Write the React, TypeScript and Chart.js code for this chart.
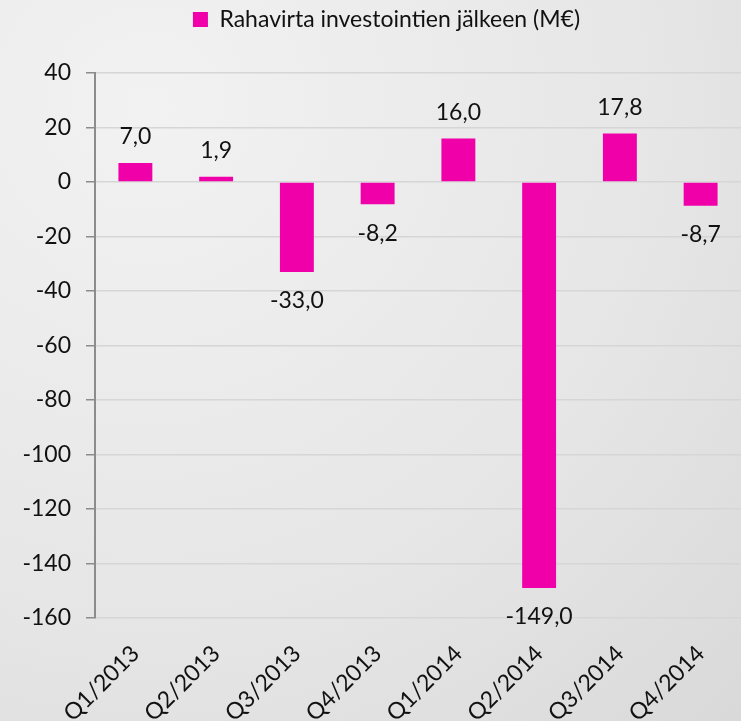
import React, { useEffect, useRef } from "react";
import { Chart, registerables } from "chart.js";

Chart.register(...registerables);

const categories = ["Q1/2013", "Q2/2013", "Q3/2013", "Q4/2013", "Q1/2014", "Q2/2014", "Q3/2014", "Q4/2014"];
const values = [7.0, 1.9, -33.0, -8.2, 16.0, -149.0, 17.8, -8.7];
const seriesName = "Rahavirta investointien jälkeen (M€)";
const yMin = -160;
const yMax = 40;
const yStep = 20;

const FONT = "Lato, 'Open Sans', sans-serif";
const FS = 23;
const PINK = "#f000a8";

const labelPlugin = {
  id: "valueLabels",
  beforeInit(chart: any) {
    const legend = chart.legend;
    if (legend) {
      const origFit = legend.fit;
      legend.fit = function () {
        origFit.call(this);
        this.height += 32;
      };
      const origDraw = legend.draw;
      legend.draw = function () {
        const c = this.ctx;
        c.save();
        c.translate(16, 0);
        origDraw.call(this);
        c.restore();
      };
    }
  },
  afterDatasetsDraw(chart: any) {
    const ctx = chart.ctx;
    const meta = chart.getDatasetMeta(0);
    ctx.save();
    ctx.font = `${FS}px ${FONT}`;
    ctx.fillStyle = "#111";
    ctx.textAlign = "center";
    ctx.textBaseline = "middle";
    meta.data.forEach((bar: any, i: number) => {
      const v = values[i];
      const txt = v.toFixed(1).replace(".", ",");
      const y = v >= 0 ? bar.y - 26 : bar.y + 29;
      ctx.fillText(txt, bar.x, y);
    });
    ctx.restore();
  },
};

export default function App() {
  const ref = useRef<HTMLCanvasElement>(null);
  useEffect(() => {
    document.body.style.margin = "0";
    const chart = new Chart(ref.current as HTMLCanvasElement, {
      type: "bar",
      data: {
        labels: categories,
        datasets: [
          {
            label: seriesName,
            data: values,
            backgroundColor: PINK,
            borderWidth: 0,
            barPercentage: 0.42,
            categoryPercentage: 1,
          },
        ],
      },
      options: {
        animation: false,
        responsive: false,
        layout: { padding: { left: 0, right: 0, top: 0, bottom: 0 } },
        plugins: {
          legend: {
            position: "top",
            labels: {
              font: { family: FONT, size: FS },
              color: "#111",
              boxWidth: 15,
              boxHeight: 15,
              padding: 8,
            },
          },
          tooltip: { enabled: false },
        },
        scales: {
          x: {
            grid: { display: false },
            border: { display: false },
            afterFit(scale: any) {
              scale.height = 721 - 618;
            },
            ticks: {
              font: { family: FONT, size: FS },
              color: "#111",
              minRotation: 45,
              maxRotation: 45,
              padding: 14,
            },
          },
          y: {
            min: yMin,
            max: yMax,
            afterFit(scale: any) {
              scale.width = 95;
            },
            ticks: {
              stepSize: yStep,
              font: { family: FONT, size: FS },
              color: "#111",
              padding: 15,
            },
            grid: {
              color: "#d6d6d6",
              tickColor: "#8c8c8c",
              tickLength: 9,
              lineWidth: 1.5,
            },
            border: { color: "#8c8c8c", width: 2 },
          },
        },
      },
      plugins: [labelPlugin],
    });
    return () => chart.destroy();
  }, []);
  return (
    <div
      style={{
        width: 741,
        height: 721,
        background: "radial-gradient(circle at 20% 15%, #f2f2f2 0%, #e6e6e6 60%, #d9d9d9 100%)",
      }}
    >
      <canvas ref={ref} width={741} height={721} />
    </div>
  );
}
